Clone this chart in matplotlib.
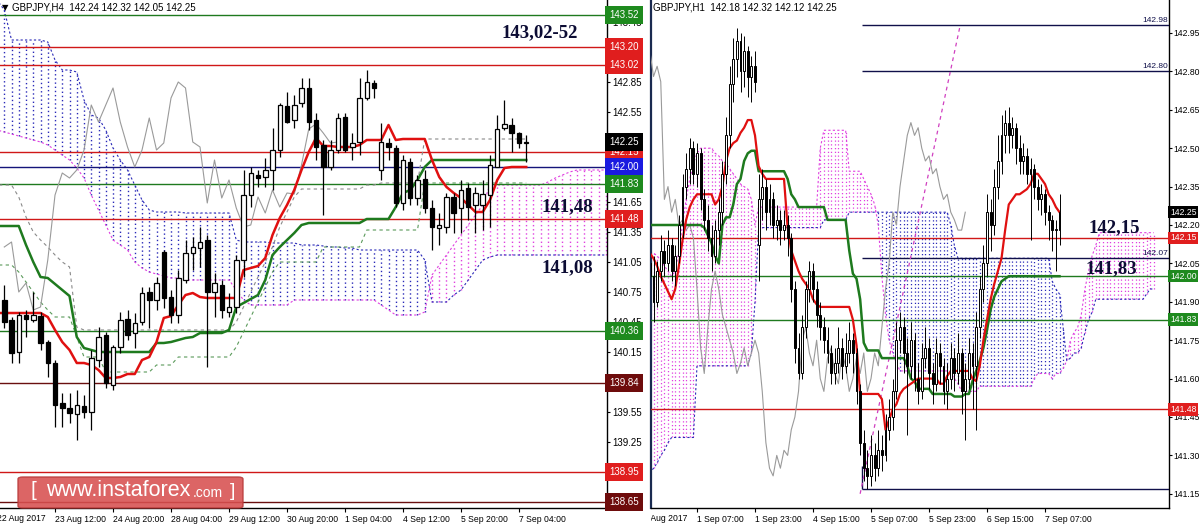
import matplotlib
matplotlib.use('Agg')
import matplotlib.pyplot as plt
from matplotlib.patches import FancyBboxPatch
from matplotlib.transforms import Bbox, TransformedBbox
import numpy as np

plt.rcParams['font.family'] = ['Liberation Sans', 'DejaVu Sans']

# ---------------- H4 panel data ----------------
h4_x = list(range(1, 74))
h4_open = [140.67, 140.47, 140.15, 140.52, 140.47, 140.51, 140.25, 140.04, 139.64, 139.59,
           139.53, 139.61, 139.55, 140.07, 140.32, 139.82, 140.20, 140.48, 140.34, 140.45,
           140.75, 140.67, 141.15, 140.70, 140.52, 140.87, 141.14, 141.19, 141.27, 140.75,
           140.82, 140.55, 140.60, 141.07, 141.72, 141.92, 141.90, 141.97, 142.17, 142.61,
           142.47, 142.64, 142.79, 142.47, 142.22, 142.00, 142.17, 142.50, 142.20, 142.25,
           142.69, 142.84, 141.97, 142.24, 142.19, 141.64, 142.05, 141.69, 141.88, 141.59,
           141.39, 141.40, 141.70, 141.59, 141.79, 141.62, 141.62, 141.72, 142.00, 142.39,
           142.42, 142.34, 142.24]
h4_high = [140.82, 140.50, 140.55, 140.57, 140.75, 140.55, 140.27, 140.07, 139.74, 139.74,
           139.77, 139.72, 140.17, 140.40, 140.35, 140.22, 140.55, 140.57, 140.54, 140.80,
           140.80, 140.90, 141.17, 140.77, 140.97, 141.27, 141.30, 141.40, 141.32, 140.94,
           140.87, 140.74, 141.12, 141.97, 142.00, 141.97, 142.09, 142.39, 142.64, 142.75,
           142.72, 142.89, 142.89, 142.54, 142.27, 142.27, 142.54, 142.54, 142.34, 142.89,
           142.97, 142.87, 142.44, 142.29, 142.22, 142.12, 142.09, 141.92, 141.97, 141.67,
           141.54, 141.74, 141.74, 141.87, 141.84, 141.80, 141.87, 142.12, 142.52, 142.67,
           142.49, 142.35, 142.32]
h4_low = [140.39, 140.04, 140.04, 140.30, 140.45, 140.17, 139.90, 139.40, 139.40, 139.44,
          139.27, 139.49, 139.37, 140.00, 139.79, 139.77, 140.14, 140.27, 140.19, 140.42,
          140.39, 140.57, 140.59, 140.44, 140.44, 140.84, 140.97, 141.00, 140.00, 140.50,
          140.49, 140.50, 140.54, 140.90, 141.60, 141.80, 141.80, 141.77, 142.10, 142.44,
          142.39, 142.60, 142.37, 142.07, 141.52, 141.97, 142.14, 142.15, 142.07, 142.12,
          142.67, 142.69, 141.87, 142.07, 141.60, 141.57, 141.62, 141.62, 141.54, 141.17,
          141.22, 141.34, 141.34, 141.34, 141.47, 141.34, 141.37, 141.40, 142.00, 142.37,
          142.15, 142.19, 142.05]
h4_close = [140.45, 140.14, 140.52, 140.48, 140.52, 140.24, 140.04, 139.62, 139.59, 139.54,
            139.62, 139.55, 140.09, 140.30, 139.84, 140.20, 140.47, 140.32, 140.44, 140.74,
            140.67, 140.84, 140.69, 140.52, 140.89, 141.14, 141.20, 141.25, 140.75, 140.84,
            140.57, 140.60, 141.07, 141.72, 141.94, 141.89, 141.97, 142.17, 142.62, 142.45,
            142.62, 142.79, 142.45, 142.20, 142.00, 142.17, 142.49, 142.17, 142.24, 142.69,
            142.85, 142.79, 142.25, 142.20, 141.64, 142.07, 141.69, 141.87, 141.59, 141.40,
            141.42, 141.70, 141.54, 141.77, 141.60, 141.74, 141.73, 142.02, 142.38, 142.43,
            142.34, 142.24, 142.25]

h4_line_x = list(range(0, 74))
h4_tenkan = [140.54, 140.54, 140.54, 140.54, 140.54, 140.54, 140.54, 140.50, 140.37, 140.25,
             140.17, 140.04, 140.04, 140.02, 139.97, 139.89, 139.89, 139.90, 139.93, 139.93,
             140.07, 140.10, 140.25, 140.49, 140.51, 140.62, 140.72, 140.74, 140.70, 140.69,
             140.69, 140.69, 140.69, 140.69, 140.97, 140.99, 141.01, 141.09, 141.32, 141.49,
             141.62, 141.77, 141.97, 142.15, 142.29, 142.21, 142.21, 142.20, 142.20, 142.20,
             142.22, 142.27, 142.27, 142.27, 142.42, 142.27, 142.28, 142.28, 142.28, 142.28,
             142.07, 141.90, 141.80, 141.74, 141.69, 141.62, 141.55, 141.55, 141.67, 141.87,
             141.99, 142.00, 142.00, 142.00]
h4_kijun = [141.41, 141.41, 141.41, 141.41, 141.22, 141.05, 140.90, 140.89, 140.83, 140.77,
            140.71, 140.30, 140.19, 140.17, 140.15, 140.15, 140.15, 140.15, 140.15, 140.15,
            140.15, 140.15, 140.24, 140.24, 140.25, 140.27, 140.29, 140.30, 140.34, 140.34,
            140.34, 140.34, 140.37, 140.60, 140.64, 140.68, 140.72, 140.87, 141.12, 141.20,
            141.27, 141.34, 141.42, 141.44, 141.44, 141.44, 141.44, 141.44, 141.44, 141.44,
            141.44, 141.48, 141.48, 141.48, 141.48, 141.60, 141.74, 141.77, 141.87, 142.00,
            142.07, 142.07, 142.07, 142.07, 142.07, 142.07, 142.07, 142.07, 142.07, 142.07,
            142.07, 142.07, 142.07, 142.07]
# higher-timeframe lines drawn dashed on the H4 chart
h4_htf_gray = [141.82, 141.82, 141.82, 141.70, 141.50, 141.35, 141.27, 141.20, 141.12, 141.05,
               141.00, 140.40, 140.37, 140.37, 140.37, 140.37, 140.37, 140.37, 140.37, 140.37,
               140.37, 140.37, 140.37, 140.37, 140.37, 140.37, 140.37, 140.37, 140.37, 140.37,
               140.37, 140.37, 140.37, 140.45, 140.60, 140.75, 140.90, 141.05, 141.20, 141.40,
               141.55, 141.70, 141.78, 141.78, 141.78, 141.78, 141.78, 141.78, 141.78, 141.78,
               141.78, 141.82, 141.82, 141.84, 141.84, 141.84, 141.84, 141.84, 141.84, 142.28,
               142.28, 142.28, 142.28, 142.28, 142.28, 142.28, 142.28, 142.28, 142.28, 142.28,
               142.28, 142.28, 142.28, 142.28]
h4_htf_green = [141.02, 141.02, 141.02, 140.95, 140.85, 140.75, 140.65, 140.57, 140.50, 140.50,
                140.50, 140.30, 140.10, 140.10, 140.10, 139.95, 139.95, 139.95, 139.95, 139.95,
                139.95, 139.95, 140.02, 140.02, 140.02, 140.10, 140.10, 140.10, 140.10, 140.10,
                140.10, 140.10, 140.10, 140.20, 140.35, 140.50, 140.65, 140.80, 140.95, 141.05,
                141.05, 141.05, 141.05, 141.05, 141.05, 141.20, 141.20, 141.20, 141.20, 141.20,
                141.20, 141.37, 141.37, 141.37, 141.37, 141.37, 141.37, 141.37, 141.37, 141.84,
                141.84, 141.84, 141.84, 141.84, 141.84, 141.84, 141.84, 141.84, 141.84, 141.84,
                141.84, 141.84, 141.84, 141.84]

h4_cloud_x = list(range(0, 85))
h4_span_a = [142.37, 142.35, 142.33, 142.31, 142.29, 142.27, 142.25, 142.22, 142.17, 142.12,
             142.07, 141.99, 141.89, 141.72, 141.57, 141.42, 141.27, 141.22, 141.17, 141.05,
             140.99, 140.95, 140.93, 140.91, 140.89, 140.89, 140.87, 140.87, 140.87, 140.87,
             140.87, 140.87, 140.87, 140.77, 140.67, 140.62, 140.62, 140.62, 140.62, 140.62,
             140.62, 140.67, 140.67, 140.67, 140.67, 140.67, 140.67, 140.67, 140.67, 140.67,
             140.67, 140.67, 140.67, 140.62, 140.57, 140.52, 140.52, 140.52, 140.52, 140.55,
             140.92, 141.02, 141.12, 141.22, 141.32, 141.42, 141.52, 141.62, 141.82, 141.82,
             141.82, 141.82, 141.82, 141.82, 141.82, 141.82, 141.85, 141.89, 141.92, 141.95,
             141.97, 141.97, 141.97, 141.97, 141.97]
h4_span_b = [143.67, 143.57, 143.27, 143.27, 143.27, 143.27, 143.27, 143.25, 143.07, 142.97,
             142.97, 142.95, 142.67, 142.52, 142.49, 142.37, 142.19, 142.07, 141.97, 141.82,
             141.67, 141.57, 141.55, 141.55, 141.55, 141.55, 141.54, 141.54, 141.54, 141.54,
             141.54, 141.54, 141.54, 141.27, 141.25, 141.25, 141.25, 141.25, 141.24, 141.24,
             141.24, 141.24, 141.22, 141.22, 141.22, 141.21, 141.20, 141.20, 141.19, 141.19,
             141.17, 141.17, 141.17, 141.17, 141.17, 141.17, 141.17, 141.17, 141.17, 141.07,
             140.65, 140.65, 140.65, 140.72, 140.77, 140.87, 140.97, 141.07, 141.10, 141.12,
             141.12, 141.12, 141.12, 141.12, 141.12, 141.12, 141.12, 141.12, 141.12, 141.12,
             141.12, 141.12, 141.12, 141.12, 141.12]

h4_ticks = [8, 16, 24, 32, 40, 48, 56, 64, 72]
h4_tick_labels = ['23 Aug 12:00', '24 Aug 20:00', '28 Aug 04:00', '29 Aug 12:00',
                  '30 Aug 20:00', '1 Sep 04:00', '4 Sep 12:00', '5 Sep 20:00', '7 Sep 04:00']
h4_first_label = '22 Aug 2017'
h4_yticks = [143.45, 143.15, 142.85, 142.55, 142.25, 141.95, 141.65, 141.35, 141.05,
             140.75, 140.45, 140.15, 139.85, 139.55, 139.25, 138.95, 138.65]
h4_levels = [143.52, 143.20, 143.02, 142.15, 142.00, 141.83, 141.48, 140.36, 139.84, 138.95, 138.65]
h4_level_kind = ['g', 'r', 'r', 'r', 'b', 'g', 'r', 'g', 'd', 'r', 'd']

# ---------------- H1 panel data ----------------
h1_x = list(range(3, 117))
h1_open = [142.05, 142.00, 141.90, 142.02, 142.10, 142.05, 142.12, 142.02, 142.08, 142.20,
           142.35, 142.42, 142.50, 142.40, 142.48, 142.30, 142.22, 142.15, 142.08, 142.18,
           142.25, 142.40, 142.55, 142.75, 142.85, 142.92, 142.80, 142.88, 142.78, 142.82,
           142.12, 142.30, 142.35, 142.25, 142.30, 142.20, 142.22, 142.18, 142.20, 142.15,
           141.95, 141.72, 141.62, 141.80, 141.95, 142.02, 141.95, 141.85, 141.80, 141.75,
           141.70, 141.62, 141.66, 141.72, 141.65, 141.70, 141.75, 141.70, 141.55, 141.35,
           141.25, 141.22, 141.30, 141.25, 141.32, 141.30, 141.40, 141.45, 141.55, 141.75,
           141.80, 141.70, 141.65, 141.75, 141.60, 141.55, 141.68, 141.72, 141.62, 141.58,
           141.70, 141.65, 141.55, 141.60, 141.68, 141.62, 141.70, 141.55, 141.60, 141.70,
           141.65, 141.80, 141.95, 142.05, 142.25, 142.20, 142.35, 142.45, 142.55, 142.60,
           142.55, 142.58, 142.50, 142.45, 142.47, 142.40, 142.42, 142.35, 142.30, 142.32,
           142.25, 142.22, 142.18, 142.18]
h1_high = [142.12, 142.08, 142.06, 142.16, 142.14, 142.18, 142.15, 142.12, 142.24, 142.40,
           142.48, 142.54, 142.53, 142.52, 142.50, 142.34, 142.28, 142.20, 142.22, 142.30,
           142.45, 142.62, 142.82, 142.93, 142.97, 142.95, 142.94, 142.90, 142.86, 142.88,
           142.40, 142.42, 142.38, 142.36, 142.33, 142.28, 142.26, 142.26, 142.24, 142.17,
           141.98, 141.78, 141.85, 141.98, 142.06, 142.05, 141.98, 141.90, 141.84, 141.80,
           141.73, 141.72, 141.80, 141.76, 141.78, 141.82, 141.78, 141.72, 141.58, 141.40,
           141.32, 141.38, 141.35, 141.40, 141.38, 141.46, 141.52, 141.60, 141.82, 141.86,
           141.84, 141.76, 141.82, 141.78, 141.66, 141.74, 141.80, 141.76, 141.66, 141.76,
           141.74, 141.68, 141.66, 141.74, 141.72, 141.78, 141.72, 141.66, 141.76, 141.74,
           141.86, 142.00, 142.12, 142.32, 142.30, 142.42, 142.55, 142.63, 142.65, 142.66,
           142.62, 142.60, 142.55, 142.52, 142.50, 142.46, 142.44, 142.38, 142.36, 142.34,
           142.28, 142.24, 142.22, 142.32]
h1_low = [141.95, 141.82, 141.88, 141.98, 142.00, 142.02, 141.98, 141.96, 142.05, 142.15,
          142.30, 142.36, 142.36, 142.35, 142.26, 142.18, 142.10, 142.02, 142.05, 142.12,
          142.20, 142.36, 142.50, 142.68, 142.78, 142.72, 142.74, 142.70, 142.68, 142.72,
          141.98, 142.22, 142.18, 142.20, 142.15, 142.14, 142.12, 142.14, 142.08, 141.90,
          141.66, 141.60, 141.60, 141.76, 141.90, 141.90, 141.80, 141.75, 141.70, 141.66,
          141.58, 141.58, 141.62, 141.60, 141.62, 141.66, 141.62, 141.50, 141.30, 141.20,
          141.17, 141.18, 141.20, 141.22, 141.24, 141.28, 141.36, 141.40, 141.52, 141.70,
          141.62, 141.38, 141.60, 141.55, 141.50, 141.52, 141.64, 141.56, 141.50, 141.55,
          141.58, 141.50, 141.48, 141.56, 141.55, 141.58, 141.46, 141.36, 141.56, 141.48,
          141.40, 141.76, 141.90, 142.00, 142.10, 142.16, 142.30, 142.40, 142.48, 142.48,
          142.50, 142.44, 142.40, 142.40, 142.36, 142.14, 142.30, 142.26, 142.24, 142.20,
          142.14, 142.10, 142.02, 142.12]
h1_close = [142.00, 141.90, 142.02, 142.10, 142.05, 142.12, 142.02, 142.08, 142.20, 142.35,
            142.42, 142.50, 142.40, 142.48, 142.30, 142.22, 142.15, 142.08, 142.18, 142.25,
            142.40, 142.55, 142.75, 142.85, 142.92, 142.80, 142.88, 142.78, 142.82, 142.76,
            142.30, 142.35, 142.25, 142.30, 142.20, 142.22, 142.18, 142.20, 142.15, 141.95,
            141.72, 141.62, 141.80, 141.95, 142.02, 141.95, 141.85, 141.80, 141.75, 141.70,
            141.62, 141.66, 141.72, 141.65, 141.70, 141.75, 141.70, 141.55, 141.35, 141.25,
            141.22, 141.30, 141.25, 141.32, 141.30, 141.40, 141.45, 141.55, 141.75, 141.80,
            141.70, 141.65, 141.75, 141.60, 141.55, 141.68, 141.72, 141.62, 141.58, 141.70,
            141.65, 141.55, 141.60, 141.68, 141.62, 141.70, 141.55, 141.60, 141.70, 141.65,
            141.80, 141.95, 142.05, 142.25, 142.20, 142.35, 142.45, 142.55, 142.60, 142.55,
            142.58, 142.50, 142.45, 142.47, 142.40, 142.42, 142.35, 142.30, 142.32, 142.25,
            142.22, 142.18, 142.18, 142.25]
h1_tenkan = ([142.09, 142.07, 142.04, 142.00, 141.97, 141.94, 141.91, 141.95, 142.04, 142.14,
              142.22, 142.27, 142.30, 142.32, 142.32, 142.32, 142.32, 142.32, 142.28, 142.30,
              142.35, 142.45, 142.50, 142.52, 142.53, 142.56, 142.58, 142.61, 142.61, 142.55,
              142.43, 142.40] + [142.38] * 6 +
             [142.19, 142.10, 142.06, 142.02, 141.99, 141.97, 141.95, 141.91, 141.89] +
             [141.88] * 9 + [141.83, 141.73] + [141.54] * 6 +
             [141.52, 141.40, 141.44, 141.48, 141.50, 141.54, 141.56, 141.57, 141.58, 141.59] +
             [141.60] * 6 + [141.58, 141.58, 141.61] + [141.63] * 6 +
             [141.60, 141.59, 141.65, 141.75, 141.83, 141.91, 141.97, 142.02, 142.07, 142.18,
              142.28, 142.30, 142.32, 142.32, 142.33, 142.34, 142.36, 142.40, 142.40, 142.38,
              142.36, 142.32, 142.30, 142.27, 142.25])
h1_kijun = ([142.20] * 15 +
            [142.19, 142.16, 142.13, 142.08, 142.05, 142.20, 142.23, 142.23, 142.28, 142.36,
             142.38, 142.45, 142.48, 142.49, 142.49] + [142.41] * 8 +
            [142.38, 142.32, 142.30] + [142.27] * 8 + [142.22] * 6 +
            [142.10, 142.01, 141.99, 141.91, 141.74] + [141.71] * 4 + [141.68] * 7 +
            [141.65, 141.60, 141.59] + [141.56] * 4 + [141.54] * 6 + [141.53] * 3 +
            [141.54, 141.54, 141.59, 141.63, 141.67, 141.72, 141.79, 141.87, 141.92, 141.95,
             141.98, 141.99] + [142.00] * 15)

h1_cloud_x = list(range(3, 143))
h1_span_a = ([142.09, 142.09, 142.08, 142.06, 142.04, 142.02, 142.00, 142.02, 142.10, 142.20,
              142.30, 142.38, 142.44, 142.48] + [142.50] * 4 +
             [142.48, 142.47, 142.45, 142.44, 142.42, 142.40, 142.38, 142.36, 142.35, 142.34,
              142.30, 142.20] + [142.27] * 17 + [142.50] + [142.57] * 7 + [142.41] * 4 +
             [142.38, 142.35, 142.32, 142.28, 142.20, 142.00, 141.85, 141.75, 141.70, 141.66] +
             [141.63] * 14 + [141.62, 141.60, 141.58] + [141.55] * 5 + [141.57] * 15 +
             [141.60] + [141.62] * 4 +
             [141.60, 141.62, 141.62, 141.64, 141.67, 141.75, 141.78, 141.80, 141.85, 141.95,
              142.02, 142.08, 142.12] + [142.17] * 16)
h1_span_b = ([141.23, 141.25, 141.27, 141.30, 141.32, 141.35] + [141.37] * 7 + [141.65] * 15 +
             [141.70, 141.90] + [142.19] * 18 + [142.22] * 7 + [142.25] * 28 +
             [142.20, 142.12] + [142.07] * 26 +
             [141.98, 141.95, 141.93, 141.80, 141.67, 141.68, 141.70, 141.70, 141.72, 141.78,
              141.83, 141.86] + [141.91] * 14 + [141.93, 141.95, 141.95])

h1_ticks = [16, 32, 48, 64, 80, 96, 112]
h1_tick_labels = ['1 Sep 07:00', '1 Sep 23:00', '4 Sep 15:00', '5 Sep 07:00',
                  '5 Sep 23:00', '6 Sep 15:00', '7 Sep 07:00']
h1_first_label = '31 Aug 2017'
h1_yticks = [142.95, 142.80, 142.65, 142.50, 142.35, 142.20, 142.05, 141.90,
             141.75, 141.60, 141.45, 141.30, 141.15]
h1_levels = [142.15, 142.00, 141.83, 141.48]
h1_level_kind = ['r', 'g', 'g', 'r']
h1_fib_levels = [142.98, 142.80, 142.07, 141.17]
h1_fib_labels = ['142.98', '142.80', '142.07', '']
h1_fib_start = 61.5
h1_trend_x = [61.0, 88.6]
h1_trend_y = [141.15, 142.98]

shift = 26

# ---------------- styles ----------------
line_col = {'g': '#1f7a1f', 'r': '#d01818', 'b': '#14147a', 'd': '#6a0f0f'}
box_col = {'g': '#1e8a1e', 'r': '#e01e1e', 'b': '#1a1ae0', 'd': '#6e0c0c'}
navy = '#10104a'
pink = '#e040e0'
blue = '#2a2ab8'


def draw_candles(ax, x, o, h, l, c, width, lw):
    x = np.array(x, dtype=float)
    o = np.array(o)
    h = np.array(h)
    l = np.array(l)
    c = np.array(c)
    up = c >= o
    ax.vlines(x, l, h, color='black', lw=lw, zorder=6)
    ax.bar(x[up], np.maximum(c - o, 0.004)[up], width, bottom=o[up], facecolor='white',
           edgecolor='black', lw=lw, zorder=7)
    ax.bar(x[~up], (o - c)[~up], width, bottom=c[~up], facecolor='black',
           edgecolor='black', lw=lw, zorder=7)


def draw_cloud(ax, x, a, b, lw):
    x = np.array(x, dtype=float)
    a = np.array(a)
    b = np.array(b)
    bull = a >= b
    ax.vlines(x[bull], b[bull], a[bull], colors=pink, linestyles=(0, (1, 2)), lw=lw, zorder=2)
    ax.vlines(x[~bull], a[~bull], b[~bull], colors=blue, linestyles=(0, (1, 2)), lw=lw, zorder=2)
    ax.plot(x, a, color=pink, ls=(0, (2, 2)), lw=0.8, zorder=2)
    ax.plot(x, b, color=blue, ls=(0, (2, 2)), lw=0.8, zorder=2)


def price_box(ax, price, color, size, xpos, pad):
    ax.text(xpos, price, '%.2f' % price, transform=ax.get_yaxis_transform(), fontsize=size,
            color='white', va='center', ha='left', zorder=20, clip_on=False,
            bbox=dict(boxstyle='square,pad=%.2f' % pad, fc=color, ec='none'))


def setup_axis(ax, ticks, labels, yticks, ysize):
    ax.set_xticks(ticks)
    ax.set_xticklabels(labels)
    for t in ax.get_xticklabels():
        t.set_ha('left')
    ax.set_yticks(yticks)
    ax.set_yticklabels(['%.2f' % v for v in yticks])
    ax.yaxis.tick_right()
    ax.tick_params(axis='x', labelsize=6.2, length=3, width=0.8, color='black', pad=2)
    ax.tick_params(axis='y', labelsize=ysize, length=2.5, width=0.8, color='black', pad=1)
    ax.spines['top'].set_visible(False)
    ax.spines['right'].set_linewidth(1.0)
    ax.spines['bottom'].set_linewidth(1.0)


fig = plt.figure(figsize=(12, 5.26), dpi=100)
fig.patch.set_facecolor('white')

# ---------- left: H4 ----------
ax1 = fig.add_axes([0.0, 18 / 526, 607 / 1200, 508 / 526])
ax1.set_xlim(0.41, 84.14)
ax1.set_ylim(138.59, 143.67)
setup_axis(ax1, h4_ticks, h4_tick_labels, h4_yticks, 7)
ax1.spines['left'].set_visible(False)

draw_cloud(ax1, h4_cloud_x, h4_span_a, h4_span_b, 1.0)
for lev, k in zip(h4_levels, h4_level_kind):
    ax1.axhline(lev, color=line_col[k], lw=1.0, zorder=3)
ax1.plot(h4_line_x, h4_htf_gray, color='#8a8a8a', ls=(0, (3, 3)), lw=0.8, zorder=3)
ax1.plot(h4_line_x, h4_htf_green, color='#5a9a5a', ls=(0, (3, 3)), lw=0.8, zorder=3)
ax1.plot(np.array(h4_x[shift:]) - shift, h4_close[shift:], color='#9a9a9a', lw=0.8, zorder=4)
ax1.plot(h4_line_x, h4_kijun, color='#1e7a1e', lw=1.8, zorder=5)
ax1.plot(h4_line_x, h4_tenkan, color='#e01010', lw=1.8, zorder=5)
draw_candles(ax1, h4_x, h4_open, h4_high, h4_low, h4_close, 0.62, 0.9)

for lev, k in zip(h4_levels, h4_level_kind):
    price_box(ax1, lev, box_col[k], 7, 1.004, 0.45)
price_box(ax1, h4_close[-1], 'black', 7, 1.004, 0.45)

ax1.text(-0.008, -0.012, h4_first_label, transform=ax1.get_xaxis_transform(), fontsize=6.2,
         ha='left', va='top', clip_on=False)
ax1.text(0.003, 0.995, u'\u25bc', transform=ax1.transAxes, fontsize=6, family='DejaVu Sans',
         va='top', ha='left')
ax1.text(0.02, 0.995, 'GBPJPY,H4  %.2f %.2f %.2f %.2f' % (h4_open[-1], h4_high[-1], h4_low[-1], h4_close[-1]),
         transform=ax1.transAxes, fontsize=7, va='top', ha='left')

big = dict(fontsize=13.5, fontweight='bold', family='Liberation Serif', color='#0c0c34',
           ha='center', va='center', zorder=25)
ax1.text(74.8, 143.34, '143,02-52', **big)
ax1.text(78.6, 141.60, '141,48', **big)
ax1.text(78.6, 140.99, '141,08', **big)

# ---------- right: H1 ----------
ax2 = fig.add_axes([651 / 1200, 18 / 526, 518 / 1200, 508 / 526])
ax2.set_xlim(3.31, 146.2)
ax2.set_ylim(142.95 - 475 / 256, 142.95 + 33 / 256)
setup_axis(ax2, h1_ticks, h1_tick_labels, h1_yticks, 6.2)
ax2.spines['left'].set_color('#1a2a50')
ax2.spines['left'].set_linewidth(1.6)

draw_cloud(ax2, h1_cloud_x, h1_span_a, h1_span_b, 0.9)
for lev, k in zip(h1_levels, h1_level_kind):
    ax2.axhline(lev, color=line_col[k], lw=1.0, zorder=3)
for lev, lab in zip(h1_fib_levels, h1_fib_labels):
    ax2.hlines(lev, h1_fib_start, 146.2, color=navy, lw=1.0, zorder=3)
    if lab:
        ax2.text(145.9, lev + 0.004, lab, fontsize=6, color=navy, ha='right', va='bottom', zorder=4)
ax2.vlines(h1_fib_start, h1_fib_levels[-1], h1_fib_levels[-1] + 0.09, color=navy, lw=1.0, zorder=3)
ax2.plot(h1_trend_x, h1_trend_y, color='#d040c0', ls=(0, (3, 3)), lw=0.9, zorder=3)
ax2.plot(np.array(h1_x[shift:]) - shift, h1_close[shift:], color='#9a9a9a', lw=0.8, zorder=4)
ax2.plot(h1_x, h1_kijun, color='#1e7a1e', lw=1.8, zorder=5)
ax2.plot(h1_x, h1_tenkan, color='#e01010', lw=1.6, zorder=5)
draw_candles(ax2, h1_x, h1_open, h1_high, h1_low, h1_close, 0.5, 0.7)

for lev, k in zip(h1_levels, h1_level_kind):
    price_box(ax2, lev, box_col[k], 6.2, 1.002, 0.2)
price_box(ax2, h1_close[-1], 'black', 6.2, 1.002, 0.2)

t = ax2.text(-0.025, -0.012, h1_first_label, transform=ax2.get_xaxis_transform(), fontsize=6.2,
             ha='left', va='top', clip_on=True)
t.set_clip_box(TransformedBbox(Bbox([[651 / 1200, 0], [1, 1]]), fig.transFigure))
ax2.text(0.003, 0.995, 'GBPJPY,H1  %.2f %.2f %.2f %.2f' % (h1_open[-1], h1_high[-1], h1_low[-1], h1_close[-1]),
         transform=ax2.transAxes, fontsize=7, va='top', ha='left')
ax2.text(131.0, 142.19, '142,15', **big)
ax2.text(130.2, 142.03, '141,83', **big)

# ---------- watermark ----------
fig.add_artist(FancyBboxPatch((18 / 1200, 18 / 526), 225 / 1200, 31 / 526,
                              boxstyle='round,pad=0,rounding_size=0.004',
                              transform=fig.transFigure, fc='#d85050', ec='#b83a3a',
                              alpha=0.88, lw=1, zorder=30))
wy = 35 / 526
fig.text(30 / 1200, wy, '[', fontsize=15, color='white', va='center', ha='left', zorder=31)
fig.text(46 / 1200, wy, 'www.instaforex', fontsize=15.5, color='white', va='center', ha='left',
         zorder=31)
fig.text(193 / 1200, wy - 0.003, '.com', fontsize=10, color='white', va='center', ha='left',
         zorder=31)
fig.text(230 / 1200, wy, ']', fontsize=14, color='white', va='center', ha='left', zorder=31)

fig.savefig('out.png', dpi=100, facecolor='white')
